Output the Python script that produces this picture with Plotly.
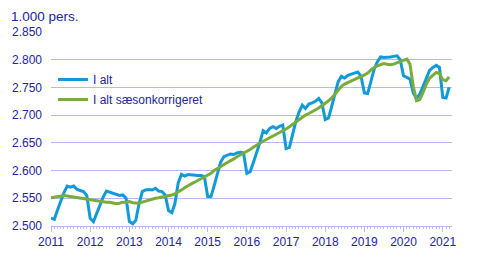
import pandas as pd
import plotly.graph_objects as go

# Monthly values, 1.000 persons, Jan 2011 - Mar 2021
i_alt = [
    2514, 2512, 2528, 2545, 2560, 2572, 2570, 2572, 2566, 2564, 2562, 2555,  # 2011
    2514, 2508, 2522, 2538, 2552, 2563, 2561, 2560, 2558, 2555, 2556, 2550,  # 2012
    2508, 2504, 2510, 2540, 2562, 2565, 2566, 2565, 2568, 2563, 2562, 2556,  # 2013
    2528, 2524, 2540, 2578, 2593, 2590, 2593, 2592, 2592, 2591, 2591, 2589,  # 2014
    2553, 2553, 2572, 2595, 2615, 2625, 2628, 2630, 2629, 2632, 2633, 2632,  # 2015
    2595, 2598, 2614, 2632, 2650, 2672, 2668, 2676, 2679, 2676, 2680, 2682,  # 2016
    2640, 2642, 2665, 2688, 2705, 2718, 2712, 2720, 2722, 2725, 2730, 2722,  # 2017
    2692, 2695, 2715, 2740, 2760, 2770, 2767, 2772, 2774, 2775, 2778, 2770,  # 2018
    2740, 2739, 2760, 2782, 2796, 2805, 2804, 2804, 2805, 2806, 2807, 2800,  # 2019
    2771, 2768, 2765, 2740, 2730, 2738, 2752, 2767, 2781, 2786, 2790, 2786,  # 2020
    2732, 2731, 2750,                                                          # 2021
]

i_alt_saeson = [
    2551, 2552, 2553, 2554, 2555, 2554, 2553, 2553, 2552, 2551, 2550, 2549,  # 2011
    2547, 2546, 2545, 2544, 2543, 2543, 2543, 2542, 2540, 2541, 2543, 2543,  # 2012
    2544, 2542, 2541, 2541, 2543, 2545, 2547, 2549, 2550, 2551, 2552, 2553,  # 2013
    2554, 2556, 2558, 2561, 2565, 2569, 2573, 2576, 2579, 2582, 2585, 2588,  # 2014
    2591, 2595, 2600, 2603, 2607, 2611, 2614, 2617, 2621, 2625, 2628, 2631,  # 2015
    2635, 2638, 2642, 2646, 2650, 2653, 2656, 2659, 2662, 2666, 2669, 2672,  # 2016
    2675, 2679, 2683, 2688, 2692, 2696, 2700, 2703, 2706, 2710, 2713, 2717,  # 2017
    2721, 2726, 2731, 2737, 2745, 2752, 2756, 2759, 2762, 2765, 2767, 2769,  # 2018
    2772, 2776, 2781, 2786, 2789, 2791, 2793, 2792, 2791, 2792, 2794, 2796,  # 2019
    2798, 2801, 2792, 2752, 2726, 2728, 2741, 2756, 2767, 2772, 2777, 2775,  # 2020
    2764, 2762, 2769,                                                          # 2021
]

months = pd.date_range("2011-01-01", periods=len(i_alt), freq="MS")

series_names = ["I alt", "I alt sæsonkorrigeret"]
series_colors = ["#109ad7", "#79ab3d"]

GRID = "#b8b8f2"
TXT = "#2323a3"
FONT = "Liberation Sans, Arial, sans-serif"

fig = go.Figure()
for name, vals, col, grp in zip(series_names, [i_alt, i_alt_saeson], series_colors, ["a", "b"]):
    fig.add_trace(go.Scatter(
        x=months, y=vals, mode="lines", name=name, legendgroup=grp,
        line=dict(color=col, width=3),
    ))

fig.update_layout(
    width=484, height=264,
    margin=dict(l=49, r=32, t=32, b=38),
    paper_bgcolor="white", plot_bgcolor="white",
    separators=",.",
    font=dict(family=FONT, size=12, color=TXT),
    title=dict(text="1.000 pers.", x=11 / 484, xref="container", xanchor="left",
               y=1 - 16 / 264, yref="container", yanchor="middle",
               font=dict(family=FONT, size=13.5, color=TXT)),
    showlegend=True,
    legend=dict(x=0.005, y=0.83, xanchor="left", yanchor="top",
                bgcolor="rgba(0,0,0,0)", borderwidth=0,
                traceorder="grouped", tracegroupgap=1,
                font=dict(family=FONT, size=12, color=TXT)),
    xaxis=dict(
        type="date", range=["2011-01-01", "2021-03-28"],
        tick0="2011-01-01", dtick="M12", tickformat="%Y",
        ticks="outside", ticklen=5, tickcolor=GRID, tickwidth=1,
        showline=True, linecolor=GRID, linewidth=1,
        showgrid=False, zeroline=False,
        minor=dict(ticks="outside", ticklen=2, tickcolor=GRID, dtick="M1",
                   tick0="2011-01-01", showgrid=False),
        tickfont=dict(family=FONT, size=12, color=TXT),
    ),
    yaxis=dict(
        range=[2500, 2850], dtick=50, tick0=2500, tickformat=",d",
        showgrid=True, gridcolor=GRID, gridwidth=1,
        zeroline=False, showline=False, ticks="",
        ticklabelstandoff=8,
        tickfont=dict(family=FONT, size=12, color=TXT),
    ),
)

fig.write_html("out.html")
